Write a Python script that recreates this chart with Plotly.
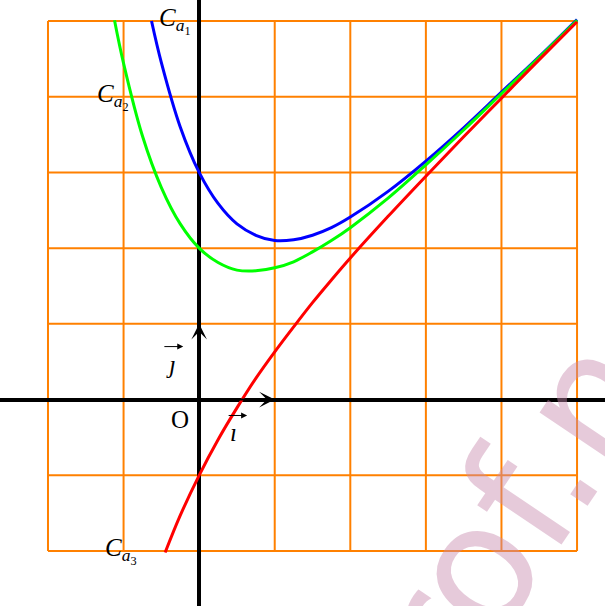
import plotly.graph_objects as go

# values
x_c1 = [-0.63, -0.5, -0.25, 0, 0.25, 0.5, 0.75, 1, 1.25, 1.5, 1.75, 2, 2.5, 3, 3.5, 4, 4.5, 5]
y_c1 = [5.0, 4.45, 3.6, 3.0, 2.59, 2.32, 2.17, 2.1, 2.11, 2.17, 2.27, 2.41, 2.75, 3.15, 3.59, 4.06, 4.53, 5.02]

x_c2 = [-1.12, -1, -0.75, -0.5, -0.25, 0, 0.25, 0.5, 0.75, 1, 1.25, 1.5, 1.75, 2, 2.5, 3, 3.5, 4, 4.5, 5]
y_c2 = [5.01, 4.44, 3.48, 2.8, 2.32, 2.0, 1.81, 1.71, 1.7, 1.74, 1.82, 1.95, 2.1, 2.27, 2.66, 3.1, 3.56, 4.04, 4.52, 5.01]

x_c3 = [-0.45, -0.25, 0, 0.25, 0.5, 0.75, 1, 1.25, 1.5, 1.75, 2, 2.5, 3, 3.5, 4, 4.5, 5]
y_c3 = [-2.02, -1.53, -1.0, -0.53, -0.11, 0.28, 0.63, 0.96, 1.28, 1.58, 1.87, 2.42, 2.95, 3.47, 3.98, 4.49, 4.99]

grid_vals = [-2, -1, 0, 1, 2, 3, 4, 5]

ORANGE = "#ff8000"
SERIF = "Liberation Serif"

fig = go.Figure()

for xs, ys, col in [(x_c1, y_c1, "#0000ff"), (x_c2, y_c2, "#00ff00"), (x_c3, y_c3, "#ff0000")]:
    fig.add_trace(go.Scatter(x=xs, y=ys, mode="lines", line=dict(color=col, width=3, shape="spline"),
                             hoverinfo="skip", showlegend=False))

# orange grid limited to the square [-2,5]x[-2,5]
for g in grid_vals:
    fig.add_shape(type="line", x0=g, x1=g, y0=grid_vals[0], y1=grid_vals[-1],
                  line=dict(color=ORANGE, width=2), layer="below")
    fig.add_shape(type="line", x0=grid_vals[0], x1=grid_vals[-1], y0=g, y1=g,
                  line=dict(color=ORANGE, width=2), layer="below")

# unit vectors i and j
for tip in [(1, 0), (0, 1)]:
    fig.add_annotation(x=tip[0], y=tip[1], ax=0, ay=0, xref="x", yref="y", axref="x", ayref="y",
                       text="", showarrow=True, arrowhead=3, arrowsize=1.3, arrowwidth=2,
                       arrowcolor="black", standoff=0, startstandoff=0)

# small arrows over i and j
for x0, x1, y in [(0.37, 0.635, -0.21), (-0.48, -0.21, 0.70)]:
    fig.add_annotation(x=x1, y=y, ax=x0, ay=y, xref="x", yref="y", axref="x", ayref="y",
                       text="", showarrow=True, arrowhead=2, arrowsize=1.2, arrowwidth=1,
                       arrowcolor="black", standoff=0)

labels = [
    ("O", -0.25, -0.26, "center"),
    ("<i>ı</i>", 0.46, -0.44, "center"),
    ("<i>ȷ</i>", -0.37, 0.46, "center"),
    ("<i>C</i><sub><i>a</i><sub>1</sub></sub>", -0.56, 5.0, "left"),
    ("<i>C</i><sub><i>a</i><sub>2</sub></sub>", -1.38, 3.99, "left"),
    ("<i>C</i><sub><i>a</i><sub>3</sub></sub>", -1.27, -2.0, "left"),
]
for txt, x, y, anc in labels:
    fig.add_annotation(x=x, y=y, text=txt, showarrow=False, xanchor=anc, yanchor="middle",
                       font=dict(family=SERIF, size=25, color="black"))

# watermark
fig.add_annotation(x=4.4, y=-1.13, xref="x", yref="y", text="prof.net", showarrow=False,
                   textangle=-56, font=dict(family="DejaVu Sans", size=168, color="rgb(200,140,175)"),
                   opacity=0.45)

fig.update_xaxes(range=[-2.635, 5.37], showgrid=False, showticklabels=False, ticks="",
                 zeroline=True, zerolinecolor="black", zerolinewidth=4)
fig.update_yaxes(range=[-2.726, 5.277], showgrid=False, showticklabels=False, ticks="",
                 zeroline=True, zerolinecolor="black", zerolinewidth=4)
fig.update_layout(width=605, height=606, margin=dict(l=0, r=0, t=0, b=0),
                  plot_bgcolor="white", paper_bgcolor="white")

fig.write_html("out.html", config={"displayModeBar": False},
               post_script="document.body.style.margin='0';")
